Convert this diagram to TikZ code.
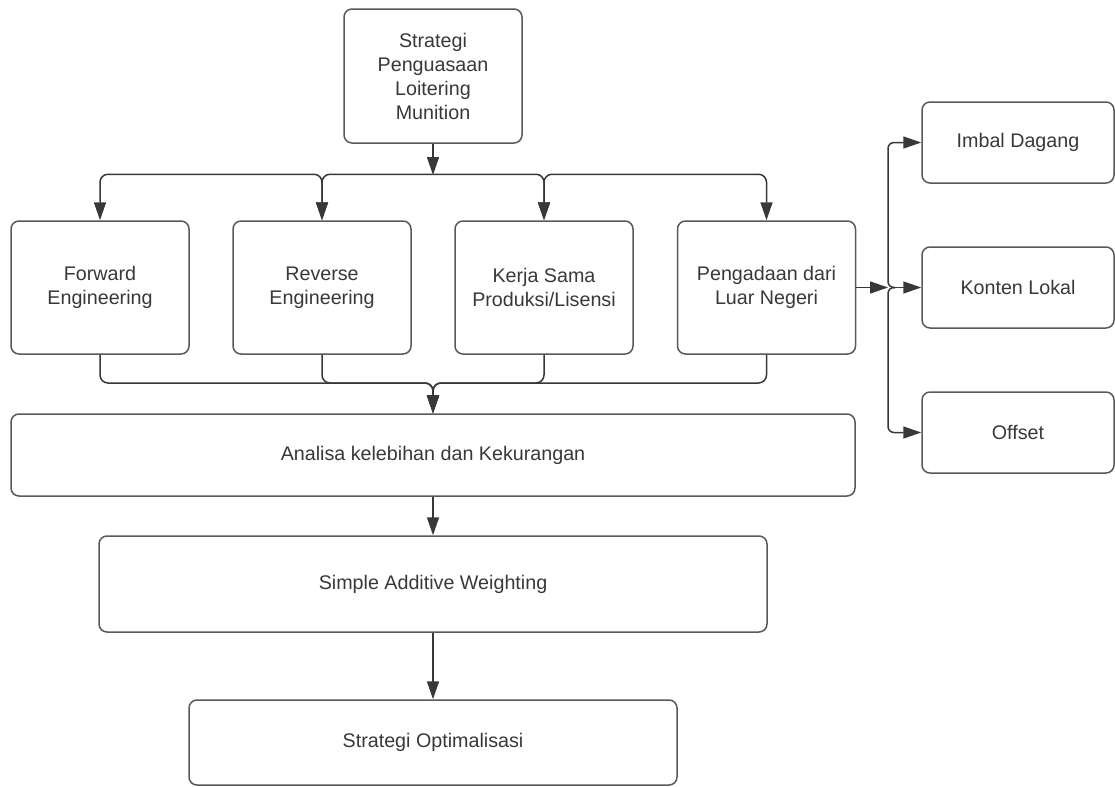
\documentclass[tikz,border=0pt]{standalone}
\usepackage{fontspec}
\setmainfont{Liberation Sans}
\usetikzlibrary{arrows.meta}

\begin{document}
\begin{tikzpicture}[x=0.5pt, y=-0.5pt,
    box/.style={draw=boxcolor, line width=0.75pt, rounded corners=4pt, align=center,
      text=textcolor, font=\fontsize{9.85}{12}\selectfont, inner sep=0pt},
    link/.style={draw=linecolor, line width=0.75pt, rounded corners=4pt},
    arr/.style={link, -{Triangle[width=6pt,length=9pt]}},
    arrs/.style={link, {Triangle[width=6pt,length=9pt]}-{Triangle[width=6pt,length=9pt]}}]
  % Define colors
  \colorlet{boxcolor}{black!65}
  \colorlet{linecolor}{black!78}
  \colorlet{textcolor}{black!78}

  \useasboundingbox (0,0) rectangle (1115,787);

  % Top box
  \node[box, minimum width=89pt, minimum height=67pt] (strat) at (433,76)
    {Strategi\\Penguasaan\\Loitering\\Munition};

  % Options
  \node[box, minimum width=89pt, minimum height=66.5pt] (fwd) at (100,287.5) {Forward\\Engineering};
  \node[box, minimum width=89pt, minimum height=66.5pt] (rev) at (322,287.5) {Reverse\\Engineering};
  \node[box, minimum width=89pt, minimum height=66.5pt] (kerja) at (544,287.5) {Kerja Sama\\Produksi/Lisensi};
  \node[box, minimum width=89pt, minimum height=66.5pt] (peng) at (766.5,287.5) {Pengadaan dari\\Luar Negeri};

  % Offset forms
  \node[box, minimum width=96pt, minimum height=40.5pt] (imbal) at (1018,142.5) {Imbal Dagang};
  \node[box, minimum width=96pt, minimum height=40.5pt] (konten) at (1018,287.5) {Konten Lokal};
  \node[box, minimum width=96pt, minimum height=40.5pt] (offset) at (1018,432.5) {Offset};

  % Analysis chain
  \node[box, minimum width=422pt, minimum height=41pt] (analisa) at (433,455) {Analisa kelebihan dan Kekurangan};
  \node[box, minimum width=334pt, minimum height=48pt] (saw) at (433,584) {Simple Additive Weighting};
  \node[box, minimum width=244pt, minimum height=42.5pt] (optim) at (433,742.5) {Strategi Optimalisasi};

  % Fan out to the options
  \coordinate (bus) at (433,175);
  \draw[arr] (strat.south) -- (bus);
  \foreach \a/\b in {fwd/rev, rev/kerja, kerja/peng}
    \draw[arrs] (\a.north) -- ++(0,-46) -| (\b.north);

  % Merge into the analysis
  \coordinate (merge) at (433,383);
  \foreach \b in {fwd, rev, kerja, peng}
    \draw[arr] (\b.south) |- (merge) -- (analisa.north);

  \draw[arr] (analisa.south) -- (saw.north);
  \draw[arr] (saw.south) -- (optim.north);

  % Branch to the right
  \coordinate (fork) at (888,287.5);
  \coordinate (hop) at (895,287.5);
  \draw[arr] (peng.east) -- (fork);
  \draw[arr] (hop) -- (konten.west);
  \draw[arr, rounded corners=3pt] (hop) -- (fork) |- (imbal.west);
  \draw[arr, rounded corners=3pt] (hop) -- (fork) |- (offset.west);
\end{tikzpicture}
\end{document}
